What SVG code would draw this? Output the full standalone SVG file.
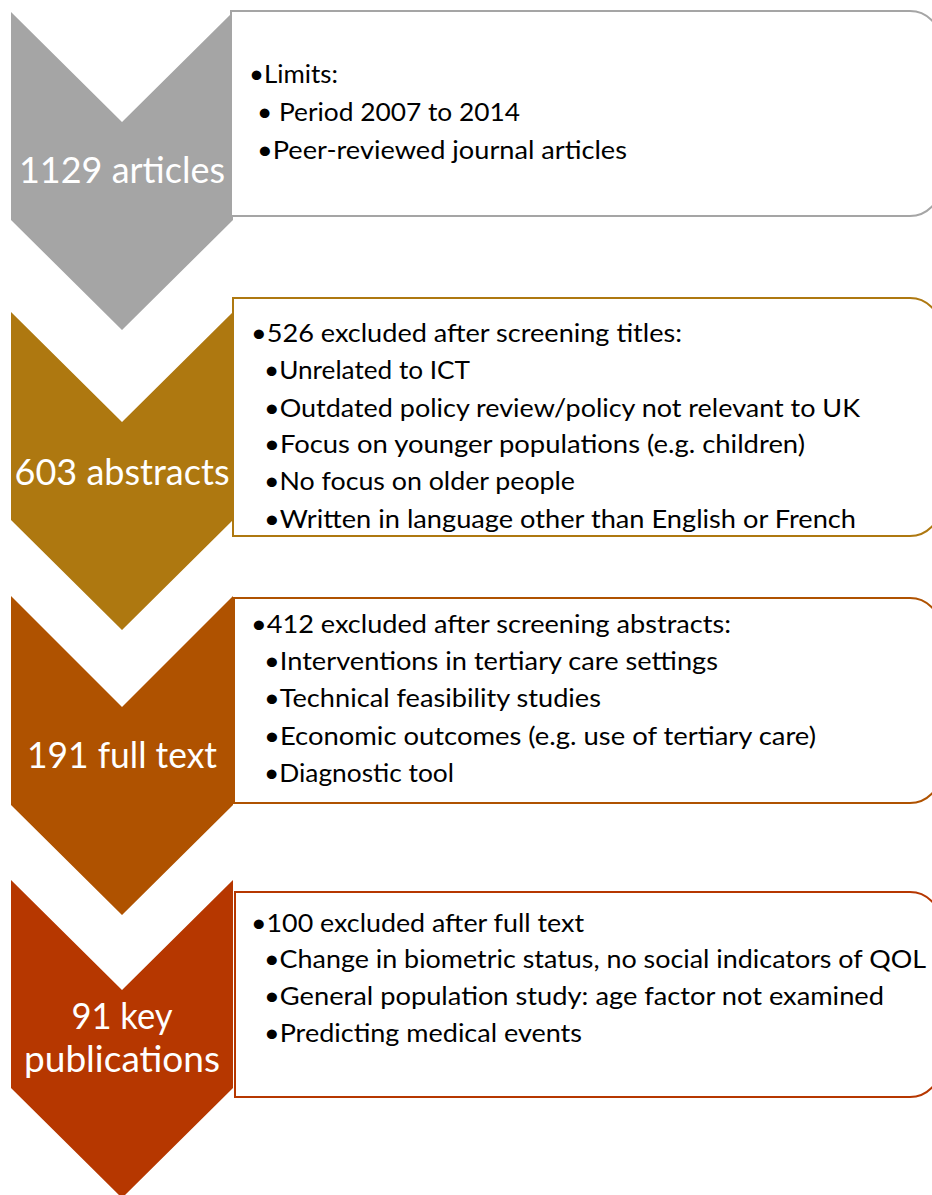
<svg xmlns="http://www.w3.org/2000/svg" width="932" height="1195" viewBox="0 0 932 1195">
<style>
.lbl{font-family:Lato,"Open Sans","Liberation Sans",sans-serif;font-size:36px;fill:#FFFFFF;text-anchor:middle}
.t{font-family:Lato,"Open Sans","Liberation Sans",sans-serif;font-size:25px;fill:#000000}
.box{fill:#FFFFFF;stroke-width:2}
</style>
<rect x="0" y="0" width="932" height="1195" fill="#FFFFFF"/>
<g id="connectors"/>
<g id="step1">
<path d="M11,12 L122,122 L233,12 L233,220 L122,330 L11,220 Z" fill="#A5A5A5"/>
<text class="lbl" x="122" y="183" textLength="206" lengthAdjust="spacingAndGlyphs">1129 articles</text>
</g>
<g id="box1">
<path class="box" d="M231,11 H910 A30,30 0 0 1 940,41 V186 A30,30 0 0 1 910,216 H231 Z" stroke="#A5A5A5"/>
<text class="t" x="249" y="83" textLength="89" lengthAdjust="spacingAndGlyphs">•Limits:</text>
<text class="t" x="257" y="121" textLength="263" lengthAdjust="spacingAndGlyphs">• Period 2007 to 2014</text>
<text class="t" x="257" y="159" textLength="370" lengthAdjust="spacingAndGlyphs">•Peer-reviewed journal articles</text>
</g>
<g id="step2">
<path d="M11,312 L122,422 L233,312 L233,520 L122,630 L11,520 Z" fill="#AE7810"/>
<text class="lbl" x="122" y="485" textLength="215" lengthAdjust="spacingAndGlyphs">603 abstracts</text>
</g>
<g id="box2">
<path class="box" d="M233,298 H910 A30,30 0 0 1 940,328 V506 A30,30 0 0 1 910,536 H233 Z" stroke="#AE7810"/>
<text class="t" x="251" y="342" textLength="431" lengthAdjust="spacingAndGlyphs">•526 excluded after screening titles:</text>
<text class="t" x="264" y="379" textLength="206" lengthAdjust="spacingAndGlyphs">•Unrelated to ICT</text>
<text class="t" x="264" y="417" textLength="596" lengthAdjust="spacingAndGlyphs">•Outdated policy review/policy not relevant to UK</text>
<text class="t" x="264" y="453" textLength="541" lengthAdjust="spacingAndGlyphs">•Focus on younger populations (e.g. children)</text>
<text class="t" x="264" y="490" textLength="311" lengthAdjust="spacingAndGlyphs">•No focus on older people</text>
<text class="t" x="264" y="528" textLength="592" lengthAdjust="spacingAndGlyphs">•Written in language other than English or French</text>
</g>
<g id="step3">
<path d="M11,596 L122,707 L233,596 L233,805 L122,915 L11,805 Z" fill="#AF5200"/>
<text class="lbl" x="122" y="768" textLength="190" lengthAdjust="spacingAndGlyphs">191 full text</text>
</g>
<g id="box3">
<path class="box" d="M234,598 H910 A30,30 0 0 1 940,628 V773 A30,30 0 0 1 910,803 H234 Z" stroke="#AF5200"/>
<text class="t" x="251" y="633" textLength="480" lengthAdjust="spacingAndGlyphs">•412 excluded after screening abstracts:</text>
<text class="t" x="264" y="670" textLength="454" lengthAdjust="spacingAndGlyphs">•Interventions in tertiary care settings</text>
<text class="t" x="264" y="707" textLength="337" lengthAdjust="spacingAndGlyphs">•Technical feasibility studies</text>
<text class="t" x="264" y="745" textLength="552" lengthAdjust="spacingAndGlyphs">•Economic outcomes (e.g. use of tertiary care)</text>
<text class="t" x="264" y="782" textLength="190" lengthAdjust="spacingAndGlyphs">•Diagnostic tool</text>
</g>
<g id="step4">
<path d="M11,880 L122,990 L233,880 L233,1088 L122,1198 L11,1088 Z" fill="#B63700"/>
<text class="lbl" x="122" y="1029" textLength="101" lengthAdjust="spacingAndGlyphs">91 key</text>
<text class="lbl" x="122" y="1072" textLength="196" lengthAdjust="spacingAndGlyphs">publications</text>
</g>
<g id="box4">
<path class="box" d="M235,892 H910 A30,30 0 0 1 940,922 V1067 A30,30 0 0 1 910,1097 H235 Z" stroke="#B63700"/>
<text class="t" x="251" y="932" textLength="333" lengthAdjust="spacingAndGlyphs">•100 excluded after full text</text>
<text class="t" x="264" y="968" textLength="662" lengthAdjust="spacingAndGlyphs">•Change in biometric status, no social indicators of QOL</text>
<text class="t" x="264" y="1005" textLength="620" lengthAdjust="spacingAndGlyphs">•General population study: age factor not examined</text>
<text class="t" x="264" y="1042" textLength="318" lengthAdjust="spacingAndGlyphs">•Predicting medical events</text>
</g>
</svg>
